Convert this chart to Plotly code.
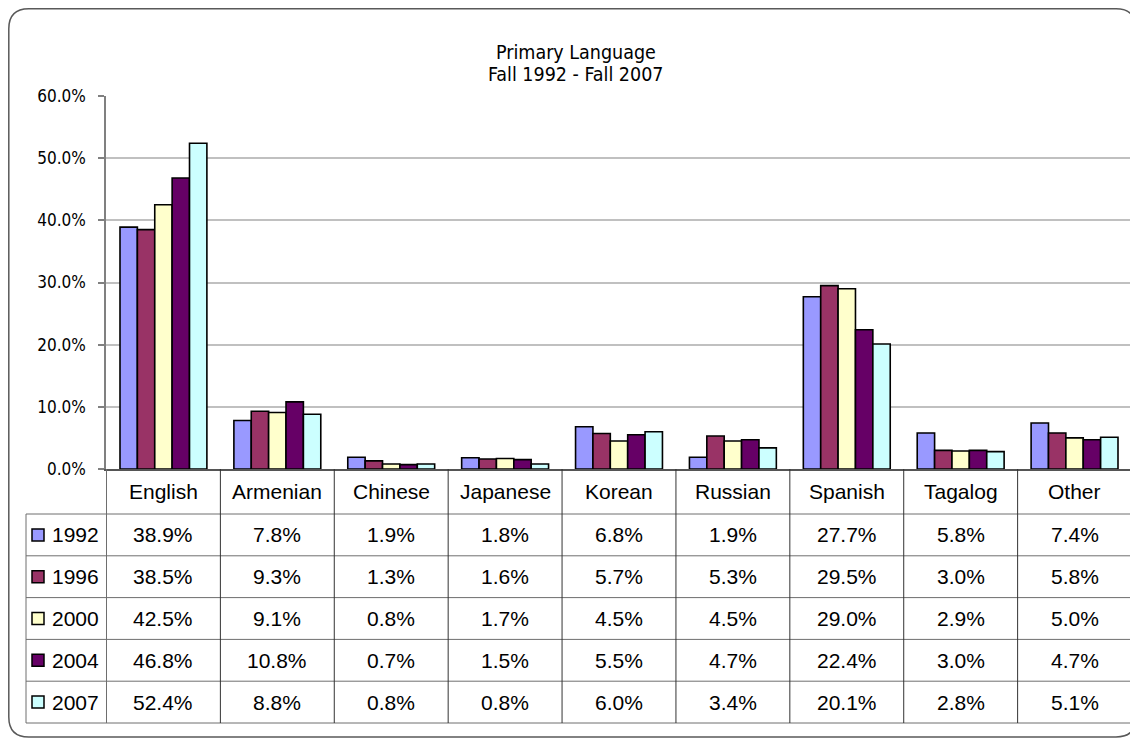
import plotly.graph_objects as go

# ---------------- data ----------------
categories = ["English", "Armenian", "Chinese", "Japanese", "Korean",
              "Russian", "Spanish", "Tagalog", "Other"]
years = ["1992", "1996", "2000", "2004", "2007"]
v1992 = [38.9, 7.8, 1.9, 1.8, 6.8, 1.9, 27.7, 5.8, 7.4]
v1996 = [38.5, 9.3, 1.3, 1.6, 5.7, 5.3, 29.5, 3.0, 5.8]
v2000 = [42.5, 9.1, 0.8, 1.7, 4.5, 4.5, 29.0, 2.9, 5.0]
v2004 = [46.8, 10.8, 0.7, 1.5, 5.5, 4.7, 22.4, 3.0, 4.7]
v2007 = [52.4, 8.8, 0.8, 0.8, 6.0, 3.4, 20.1, 2.8, 5.1]
series = [v1992, v1996, v2000, v2004, v2007]
colors = ["#9999FF", "#993366", "#FFFFCC", "#660066", "#CCFFFF"]
title_lines = ["Primary Language", "Fall 1992 - Fall 2007"]

# ---------------- layout helpers ----------------
W, H = 1138, 740
OFF = 8  # page body margin offset
def X(px):
    return (px - OFF) / W
def Y(py):
    return 1 - (py - OFF) / H

NARROW = "DejaVu Sans Condensed, Liberation Sans Narrow, sans-serif"
ARIAL = "Liberation Sans, Arial, sans-serif"

plot_l, plot_r = 106, 1132
plot_t, plot_b = 96, 469
table_left = 26
row_h = 41.8
cat_row_bottom = 514
row_lines = [cat_row_bottom + i * row_h for i in range(6)]

fig = go.Figure()
for yr, vals, col in zip(years, series, colors):
    fig.add_trace(go.Bar(
        x=categories, y=vals, name=yr,
        marker=dict(color=col, line=dict(color="#000000", width=1.6)),
        showlegend=False,
    ))

shapes = []
annotations = []

# outer rounded border
r = 20
x0, y0 = 0.8 / W, 1 - 0.8 / H
x1, y1 = X(1136), Y(737)
rx, ry = r / W, r / H
path = (f"M {x0+rx},{y0} L {x1-rx},{y0} Q {x1},{y0} {x1},{y0-ry} "
        f"L {x1},{y1+ry} Q {x1},{y1} {x1-rx},{y1} "
        f"L {x0+rx},{y1} Q {x0},{y1} {x0},{y1+ry} "
        f"L {x0},{y0-ry} Q {x0},{y0} {x0+rx},{y0} Z")
shapes.append(dict(type="path", path=path, xref="paper", yref="paper",
                   line=dict(color="#595959", width=1.5), layer="below"))

line_col = "#6E6E6E"
for i, yl in enumerate(row_lines):
    shapes.append(dict(type="line", xref="paper", yref="paper",
                       x0=X(table_left), x1=X(plot_r), y0=Y(yl), y1=Y(yl),
                       line=dict(color=line_col, width=1)))
shapes.append(dict(type="line", xref="paper", yref="paper",
                   x0=X(table_left), x1=X(table_left),
                   y0=Y(row_lines[0]), y1=Y(row_lines[-1]),
                   line=dict(color=line_col, width=1)))
for i in range(len(categories) + 1):
    shapes.append(dict(type="line", xref="x", yref="paper",
                       x0=i - 0.5, x1=i - 0.5,
                       y0=Y(plot_b), y1=Y(row_lines[-1]),
                       line=dict(color=line_col if i in (0, len(categories)) else "#333333", width=1)))

for c in categories:
    annotations.append(dict(x=c, xref="x", y=Y((plot_b + cat_row_bottom) / 2), yref="paper",
                            text=c, showarrow=False, xanchor="center", yanchor="middle",
                            font=dict(family=ARIAL, size=21, color="#000000")))
for j, (yr, vals, col) in enumerate(zip(years, series, colors)):
    yc = row_lines[j] + row_h / 2
    shapes.append(dict(type="rect", xref="paper", yref="paper",
                       x0=X(32), x1=X(44), y0=Y(yc + 6), y1=Y(yc - 6),
                       fillcolor=col, line=dict(color="#000000", width=1.5)))
    annotations.append(dict(x=X(50), xref="paper", y=Y(yc), yref="paper",
                            text=yr, showarrow=False, xanchor="left", yanchor="middle",
                            font=dict(family=ARIAL, size=21, color="#000000")))
    for c, v in zip(categories, vals):
        annotations.append(dict(x=c, xref="x", y=Y(yc), yref="paper",
                                text=f"{v:.1f}%", showarrow=False,
                                xanchor="center", yanchor="middle",
                                font=dict(family=ARIAL, size=21, color="#000000")))

annotations.append(dict(x=X(576), xref="paper", y=Y(52), yref="paper",
                        text=title_lines[0], showarrow=False, xanchor="center", yanchor="middle",
                        font=dict(family=NARROW, size=19.5, color="#000000")))
annotations.append(dict(x=X(576), xref="paper", y=Y(75), yref="paper",
                        text=title_lines[1], showarrow=False, xanchor="center", yanchor="middle",
                        font=dict(family=NARROW, size=19.5, color="#000000")))

fig.update_layout(
    width=W, height=H,
    margin=dict(l=0, r=0, t=0, b=0, pad=0, autoexpand=False),
    paper_bgcolor="#FFFFFF", plot_bgcolor="#FFFFFF",
    barmode="group", bargap=0.237, bargroupgap=0,
    shapes=shapes, annotations=annotations,
    showlegend=False,
    xaxis=dict(domain=[X(plot_l), X(plot_r)], showticklabels=False, ticks="",
               showline=True, linecolor="#555555", linewidth=1.5, automargin=False,
               showgrid=False, zeroline=False, fixedrange=True),
    yaxis=dict(domain=[Y(plot_b), Y(plot_t)], range=[0, 60], dtick=10,
               tickformat=".1f", ticksuffix="%", automargin=False,
               showgrid=True, gridcolor="#C0C0C0", gridwidth=1.5,
               showline=True, linecolor="#808080", linewidth=1.5,
               ticks="outside", ticklen=6, tickcolor="#808080", tickwidth=1.5,
               ticklabelstandoff=9, zeroline=False,
               tickfont=dict(family=NARROW, size=17, color="#000000"),
               fixedrange=True),
)

fig.write_html("out.html")
